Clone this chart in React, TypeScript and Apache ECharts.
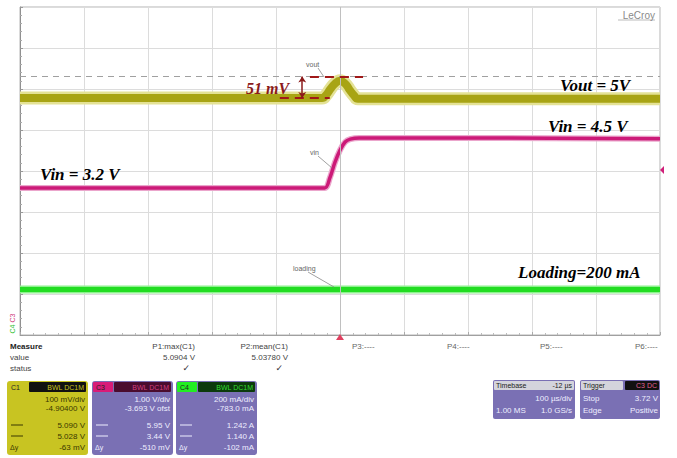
import React, { useEffect, useRef } from "react";
import * as echarts from "echarts";

// Time in microseconds (100 us/div, trigger at 0)
const voutTime = [-500, -28, -22, -15, -8, 0, 8, 15, 22, 28, 500];
const voutVolts = [5.038, 5.038, 5.045, 5.06, 5.073, 5.08, 5.073, 5.058, 5.044, 5.036, 5.036];

const vinTime = [-500, -24, -16, -8, 0, 8, 16, 30, 200, 500];
const vinVolts = [3.28, 3.28, 3.52, 3.9, 4.2, 4.4, 4.47, 4.5, 4.5, 4.48];

const loadTime = [-500, 500];
const loadMilliAmps = [205, 205];

const voutMax = 5.0904;
const voutMean = 5.038;

const measureHeaders = ["P1:max(C1)", "P2:mean(C1)"];
const measureValues = ["5.0904 V", "5.03780 V"];
const emptyParams = ["P3:----", "P4:----", "P5:----", "P6:----"];

const c1Rows = ["100 mV/div", "-4.90400 V", "5.090 V", "5.028 V", "-63 mV"];
const c3Rows = ["1.00 V/div", "-3.693 V ofst", "5.95 V", "3.44 V", "-510 mV"];
const c4Rows = ["200 mA/div", "-783.0 mA", "1.242 A", "1.140 A", "-102 mA"];

const zip = (a: number[], b: number[]) => a.map((v, i) => [v, b[i]]);

const SERIF = "'Liberation Serif', 'DejaVu Serif', serif";
const SANS = "'Liberation Sans', Arial, sans-serif";

function txt(text: string, x: number, y: number, o: any = {}) {
  const align = o.align || "left";
  const v = o.v || "middle";
  return {
    type: "text",
    x,
    y,
    rotation: o.rotation || 0,
    z: 100,
    style: {
      text,
      font: o.font || `8px ${SANS}`,
      fill: o.fill || "#333",
      align,
      textAlign: align,
      verticalAlign: v,
      textVerticalAlign: v,
    },
  };
}
function rect(x: number, y: number, w: number, h: number, fill: string, r = 0) {
  return { type: "rect", z: 90, shape: { x, y, width: w, height: h, r }, style: { fill } };
}
function line(x1: number, y1: number, x2: number, y2: number, stroke: string, lw = 1) {
  return { type: "line", z: 95, shape: { x1, y1, x2, y2 }, style: { stroke, lineWidth: lw } };
}

function channelBox(x: number, rows: string[], bg: string, tagBg: string, tagText: string, stripBg: string, stripFill: string, textFill: string) {
  const els: any[] = [];
  const y = 381;
  els.push(rect(x, y, 81, 74, bg, 3));
  els.push(rect(x + 1, y + 1, 20, 10, tagBg, 1));
  els.push(txt(tagText, x + 4, y + 6, { fill: "#222", font: `7px ${SANS}` }));
  els.push(rect(x + 22, y + 1, 57, 10, stripBg, 1));
  els.push(txt("BWL DC1M", x + 77, y + 6, { align: "right", fill: stripFill, font: `7px ${SANS}` }));
  const ys = [399, 408, 425, 436, 447];
  rows.forEach((r, i) => {
    els.push(txt(r, x + 78, ys[i], { align: "right", fill: textFill }));
  });
  els.push(line(x + 4, 425, x + 16, 425, textFill, 1));
  els.push(line(x + 4, 436, x + 16, 436, textFill, 1));
  els.push(txt("Δy", x + 3, 447, { fill: textFill, font: `7px ${SANS}` }));
  return els;
}

export default function App() {
  const ref = useRef<HTMLDivElement>(null);
  useEffect(() => {
    document.body.style.margin = "0";
    const chart = echarts.init(ref.current!, null, { renderer: "svg" });

    const graphics: any[] = [];
    // annotations on the plot
    graphics.push(txt("Vout = 5V", 560, 85, { font: `italic bold 17px ${SERIF}`, fill: "#000" }));
    graphics.push(txt("Vin = 4.5 V", 548, 126, { font: `italic bold 17px ${SERIF}`, fill: "#000" }));
    graphics.push(txt("Vin = 3.2 V", 40, 174, { font: `italic bold 17px ${SERIF}`, fill: "#000" }));
    graphics.push(txt("Loading=200 mA", 518, 272, { font: `italic bold 17px ${SERIF}`, fill: "#000" }));
    graphics.push(txt("51 mV", 246, 88, { font: `italic bold 16px ${SERIF}`, fill: "#8b1a1a" }));
    graphics.push(txt("LeCroy", 655, 15, { align: "right", font: `10px ${SANS}`, fill: "#8a8a8a" }));
    graphics.push(line(618, 20, 655, 20, "#bbb", 1));
    // small trace labels
    graphics.push(txt("vout", 306, 64, { font: `7px ${SANS}`, fill: "#666" }));
    graphics.push(line(318, 68, 324, 77, "#888", 0.8));
    graphics.push(txt("vin", 310, 152, { font: `7px ${SANS}`, fill: "#666" }));
    graphics.push(line(318, 156, 332, 168, "#888", 0.8));
    graphics.push(txt("loading", 293, 268, { font: `7px ${SANS}`, fill: "#666" }));
    graphics.push(line(308, 272, 334, 287, "#888", 0.8));
    // markers
    graphics.push({ type: "polygon", z: 95, shape: { points: [[336, 340], [344, 340], [340, 334]] }, style: { fill: "#e04060" } });
    graphics.push({ type: "polygon", z: 95, shape: { points: [[664, 166], [664, 174], [660, 170]] }, style: { fill: "#d0207a" } });
    graphics.push(txt("C3", 12, 318, { rotation: Math.PI / 2, font: `7px ${SANS}`, fill: "#d04080", align: "center" }));
    graphics.push(txt("C4", 12, 329, { rotation: Math.PI / 2, font: `7px ${SANS}`, fill: "#30c030", align: "center" }));

    // measure table
    graphics.push(txt("Measure", 10, 346, { font: `bold 8px ${SANS}`, fill: "#222" }));
    graphics.push(txt("value", 10, 357, { fill: "#444" }));
    graphics.push(txt("status", 10, 368, { fill: "#444" }));
    const colX = [195, 288];
    measureHeaders.forEach((h, i) => {
      graphics.push(txt(h, colX[i], 346, { align: "right", fill: "#444" }));
      graphics.push(txt(measureValues[i], colX[i], 357, { align: "right", fill: "#444" }));
      graphics.push(txt("✓", colX[i] - 5, 368, { align: "right", font: `9px 'DejaVu Sans'`, fill: "#333" }));
    });
    const emptyX = [352, 447, 540, 635];
    emptyParams.forEach((p, i) => graphics.push(txt(p, emptyX[i], 346, { fill: "#666" })));

    // channel boxes
    graphics.push(...channelBox(7, c1Rows, "#c8c422", "#c8c422", "C1", "#111", "#c8c422", "#3a3800"));
    graphics.push(...channelBox(92, c3Rows, "#7a70b4", "#d81c78", "C3", "#4a0c2e", "#d04080", "#eeeeff"));
    graphics.push(...channelBox(176, c4Rows, "#7a70b4", "#22ee22", "C4", "#0c3a0c", "#33dd33", "#eeeeff"));

    // timebase box
    graphics.push(rect(493, 380, 82, 39, "#7a70b4", 2));
    graphics.push(rect(494, 381, 80, 9, "#d4d4dc", 1));
    graphics.push(txt("Timebase", 496, 385.5, { font: `7px ${SANS}`, fill: "#222" }));
    graphics.push(txt("-12 µs", 572, 385.5, { align: "right", font: `7px ${SANS}`, fill: "#222" }));
    graphics.push(txt("100 µs/div", 572, 398, { align: "right", fill: "#eeeeff" }));
    graphics.push(txt("1.00 MS", 496, 410, { fill: "#eeeeff" }));
    graphics.push(txt("1.0 GS/s", 572, 410, { align: "right", fill: "#eeeeff" }));
    // trigger box
    graphics.push(rect(580, 380, 80, 39, "#7a70b4", 2));
    graphics.push(rect(581, 381, 42, 9, "#d4d4dc", 1));
    graphics.push(txt("Trigger", 583, 385.5, { font: `7px ${SANS}`, fill: "#222" }));
    graphics.push(rect(625, 381, 34, 9, "#111", 1));
    graphics.push(txt("C3 DC", 657, 385.5, { align: "right", font: `7px ${SANS}`, fill: "#e06090" }));
    graphics.push(txt("Stop", 583, 398, { fill: "#eeeeff" }));
    graphics.push(txt("3.72 V", 658, 398, { align: "right", fill: "#eeeeff" }));
    graphics.push(txt("Edge", 583, 410, { fill: "#eeeeff" }));
    graphics.push(txt("Positive", 658, 410, { align: "right", fill: "#eeeeff" }));

    const voutData = zip(voutTime, voutVolts);
    const vinData = zip(vinTime, vinVolts);
    const loadData = zip(loadTime, loadMilliAmps);

    const option: any = {
      animation: false,
      backgroundColor: "#ffffff",
      grid: { left: 20, top: 7, width: 640, height: 328, show: true, borderColor: "#b4b4b4", borderWidth: 1 },
      xAxis: {
        type: "value",
        min: -500,
        max: 500,
        interval: 100,
        axisLabel: { show: false },
        axisLine: { show: true, onZero: false, lineStyle: { color: "#a0a0a0" } },
        axisTick: { show: true, inside: true, length: 3, lineStyle: { color: "#aaa" } },
        minorTick: { show: true, splitNumber: 5, length: 2, lineStyle: { color: "#bbb" } },
        splitLine: { show: true, lineStyle: { color: "#dcdcdc", width: 1 } },
      },
      yAxis: [
        {
          type: "value",
          min: -4,
          max: 4,
          interval: 1,
          axisLabel: { show: false },
          axisLine: { show: true, onZero: false, lineStyle: { color: "#909090" } },
          axisTick: { show: true, inside: true, length: 3, lineStyle: { color: "#999" } },
          minorTick: { show: true, splitNumber: 5, length: 2, lineStyle: { color: "#aaa" } },
          splitLine: { show: true, lineStyle: { color: "#dcdcdc", width: 1 } },
        },
        { type: "value", show: false, min: 4.46, max: 5.26, splitLine: { show: false } },
        { type: "value", show: false, min: -0.307, max: 7.693, splitLine: { show: false } },
        { type: "value", show: false, min: -17, max: 1583, splitLine: { show: false } },
      ],
      series: [
        {
          type: "line",
          yAxisIndex: 0,
          data: [],
          silent: true,
          markLine: {
            silent: true,
            symbol: "none",
            label: { show: false },
            lineStyle: { color: "#c0c0c0", type: "solid", width: 1 },
            data: [{ xAxis: 0 }],
          },
        },
        {
          name: "Vout halo",
          type: "line",
          yAxisIndex: 1,
          data: voutData,
          showSymbol: false,
          smooth: 0.5,
          lineStyle: { color: "#e4e296", width: 13 },
          z: 3,
        },
        {
          name: "Vout",
          type: "line",
          yAxisIndex: 1,
          data: voutData,
          showSymbol: false,
          smooth: 0.5,
          lineStyle: { color: "#a8a414", width: 8 },
          z: 4,
          markLine: {
            silent: true,
            symbol: "none",
            label: { show: false },
            data: [
              { yAxis: voutMax, lineStyle: { color: "#a0a0a0", type: [6, 5], width: 1 } },
              [
                { coord: [-47, voutMax], lineStyle: { color: "#a01818", type: [9, 6], width: 2 } },
                { coord: [36, voutMax] },
              ],
              [
                { coord: [-94, voutMean], lineStyle: { color: "#a01818", type: [9, 6], width: 2 } },
                { coord: [-16, voutMean] },
              ],
              [
                { coord: [-59, voutMax], symbol: "arrow", symbolSize: 6, lineStyle: { color: "#8b1a1a", type: "solid", width: 1.5 } },
                { coord: [-59, voutMean], symbol: "arrow", symbolSize: 6 },
              ],
            ],
          },
        },
        {
          name: "Vin halo",
          type: "line",
          yAxisIndex: 2,
          data: vinData,
          showSymbol: false,
          smooth: 0.3,
          lineStyle: { color: "#eba6cc", width: 6 },
          z: 3,
        },
        {
          name: "Vin",
          type: "line",
          yAxisIndex: 2,
          data: vinData,
          showSymbol: false,
          smooth: 0.3,
          lineStyle: { color: "#cc1a78", width: 3.5 },
          z: 4,
        },
        {
          name: "Loading halo",
          type: "line",
          yAxisIndex: 3,
          data: loadData,
          showSymbol: false,
          lineStyle: { color: "#8ef08e", width: 8 },
          z: 3,
        },
        {
          name: "Loading",
          type: "line",
          yAxisIndex: 3,
          data: loadData,
          showSymbol: false,
          lineStyle: { color: "#22dd22", width: 5 },
          z: 4,
        },
      ],
      graphic: { elements: graphics },
    };

    chart.setOption(option);
    return () => chart.dispose();
  }, []);
  return <div ref={ref} style={{ width: 677, height: 458 }} />;
}
